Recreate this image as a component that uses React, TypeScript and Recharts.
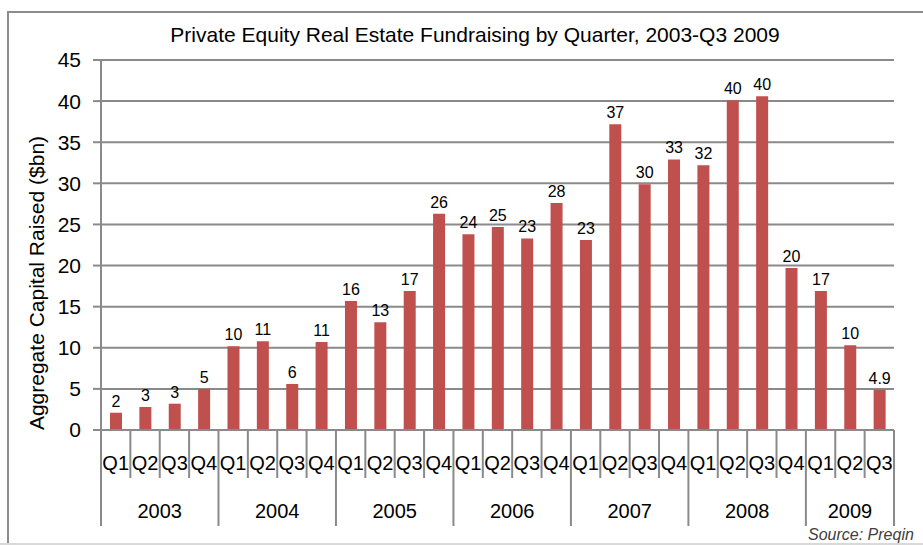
import React from "react";
import { BarChart, Bar, XAxis, YAxis, CartesianGrid, LabelList } from "recharts";

const quarters = [
  "Q1", "Q2", "Q3", "Q4",
  "Q1", "Q2", "Q3", "Q4",
  "Q1", "Q2", "Q3", "Q4",
  "Q1", "Q2", "Q3", "Q4",
  "Q1", "Q2", "Q3", "Q4",
  "Q1", "Q2", "Q3", "Q4",
  "Q1", "Q2", "Q3",
];
const years = [
  "2003", "2003", "2003", "2003",
  "2004", "2004", "2004", "2004",
  "2005", "2005", "2005", "2005",
  "2006", "2006", "2006", "2006",
  "2007", "2007", "2007", "2007",
  "2008", "2008", "2008", "2008",
  "2009", "2009", "2009",
];
const raised = [
  2.1, 2.8, 3.2, 5.0,
  10.2, 10.8, 5.6, 10.7,
  15.7, 13.1, 16.9, 26.3,
  23.8, 24.7, 23.3, 27.6,
  23.1, 37.2, 29.9, 32.9,
  32.2, 40.1, 40.6, 19.7,
  16.9, 10.3, 4.9,
];
const valueLabels = [
  "2", "3", "3", "5",
  "10", "11", "6", "11",
  "16", "13", "17", "26",
  "24", "25", "23", "28",
  "23", "37", "30", "33",
  "32", "40", "40", "20",
  "17", "10", "4.9",
];
const yTicks = [0, 5, 10, 15, 20, 25, 30, 35, 40, 45];

const data = quarters.map((q, i) => ({
  key: `${years[i]}-${q}`,
  q,
  year: years[i],
  value: raised[i],
  label: valueLabels[i],
}));

const W = 923;
const H = 545;
const margin = { top: 60, right: 29, bottom: 0, left: 0 };
const yAxisW = 101;
const xAxisH = 115;
const plotW = W - margin.left - margin.right - yAxisW;
const band = plotW / data.length;
const font = "'Liberation Sans', Arial, sans-serif";
const lineColor = "#8a8a8a";

const QuarterTick = (props: any) => {
  const { x, y, payload } = props;
  const i = payload.index;
  const row = data[i];
  const left = x - band / 2;
  const newYear = i === 0 || data[i - 1].year !== row.year;
  const count = data.filter((d) => d.year === row.year).length;
  return (
    <g>
      <line x1={left} y1={y} x2={left} y2={y + (newYear ? 96 : 48)} stroke={lineColor} strokeWidth={2} />
      {i === data.length - 1 && (
        <line x1={x + band / 2} y1={y} x2={x + band / 2} y2={y + 96} stroke={lineColor} strokeWidth={2} />
      )}
      <text x={x} y={y + 40} textAnchor="middle" fontSize={20} fill="#000" fontFamily={font}>
        {row.q}
      </text>
      {newYear && (
        <text x={left + (count * band) / 2} y={y + 88} textAnchor="middle" fontSize={20} fill="#000" fontFamily={font}>
          {row.year}
        </text>
      )}
    </g>
  );
};

const YLabel = (props: any) => {
  const vb = props.viewBox;
  const cx = 36;
  const cy = vb.y + vb.height / 2 + 38;
  return (
    <text x={cx} y={cy} transform={`rotate(-90 ${cx} ${cy})`} textAnchor="middle" dominantBaseline="central" fontSize={21} fill="#000" fontFamily={font}>
      Aggregate Capital Raised ($bn)
    </text>
  );
};

const App: React.FC = () => {
  return (
    <div style={{ position: "absolute", left: 0, top: 0, width: W, height: H, overflow: "hidden", background: "#fff" }}>
      <div style={{ position: "absolute", left: 7, top: 11, width: W + 20, height: 560, border: "2px solid #8c8c8c", boxSizing: "border-box" }} />
      <div style={{ position: "absolute", left: 0, top: 543, width: W, height: 2, background: "#d9d9d9" }} />
      <div style={{ position: "absolute", left: 0, top: 23, width: 950, textAlign: "center", fontFamily: font, fontSize: 21, color: "#000", lineHeight: "24px" }}>
        Private Equity Real Estate Fundraising by Quarter, 2003-Q3 2009
      </div>
      <div style={{ position: "absolute", left: 808, top: 526, fontFamily: font, fontSize: 16, lineHeight: "18px", fontStyle: "italic", color: "#404040", whiteSpace: "nowrap" }}>
        Source: Preqin
      </div>
      <div style={{ position: "absolute", left: 0, top: 0 }}>
        <BarChart width={W} height={H} data={data} margin={margin} barSize={12}>
          <CartesianGrid vertical={false} stroke={lineColor} strokeWidth={2} />
          <XAxis
            dataKey="key"
            height={xAxisH}
            interval={0}
            tickLine={false}
            tickSize={0}
            tickMargin={0}
            stroke={lineColor}
            strokeWidth={2}
            tick={<QuarterTick />}
          />
          <YAxis
            width={yAxisW}
            domain={[0, 45]}
            ticks={yTicks}
            interval={0}
            tickSize={8}
            tickMargin={12}
            stroke={lineColor}
            strokeWidth={2}
            tick={{ fontSize: 21, fill: "#000", fontFamily: font }}
            label={<YLabel />}
          />
          <Bar dataKey="value" fill="#C0504D" isAnimationActive={false}>
            <LabelList dataKey="label" position="top" offset={6} fontSize={16} fill="#000" fontFamily={font} />
          </Bar>
        </BarChart>
      </div>
    </div>
  );
};

export default App;
